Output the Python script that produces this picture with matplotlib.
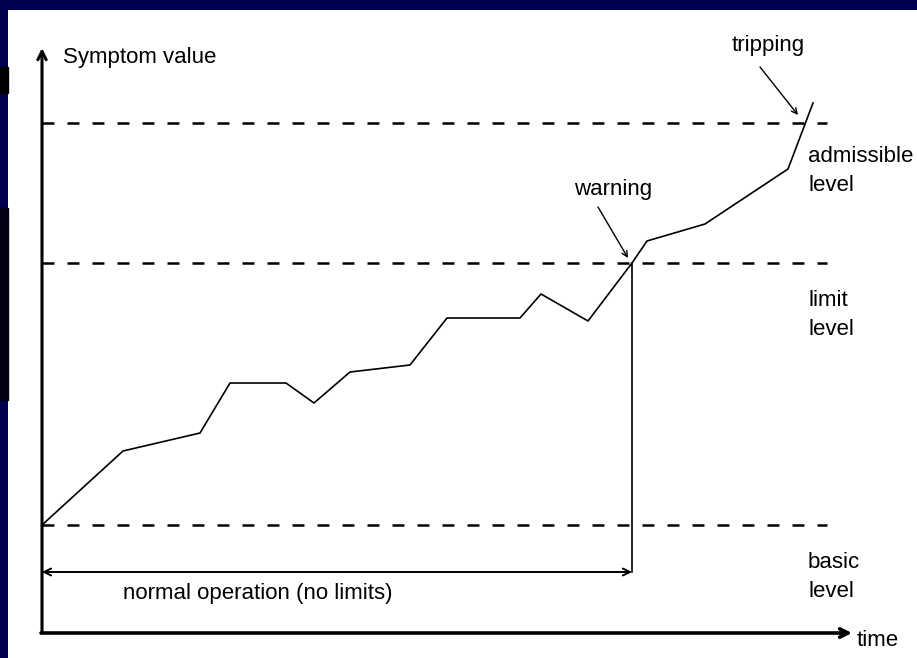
import matplotlib
matplotlib.use('Agg')
import matplotlib.pyplot as plt
from matplotlib.patches import Rectangle

# symptom curve (time, symptom value)
t_curve = [0, 81, 158, 188, 244, 272, 308, 368, 405, 478, 499, 546, 590, 605, 663, 746, 771]
v_curve = [108, 182, 200, 250, 250, 230, 261, 268, 315, 315, 339, 312, 370, 392, 409, 464, 530]

# levels
level_names = ['basic\nlevel', 'limit\nlevel', 'admissible\nlevel']
level_values = [108, 370, 510]
level_label_y = [56, 318, 462]
t_level_end = 785

t_warning = 590
v_normal = 61
t_axis_end = 810
v_axis_end = 585

navy = '#000050'
fam = ['Liberation Sans Narrow', 'Liberation Sans', 'DejaVu Sans']
fs = 16

fig = plt.figure(figsize=(9.17, 6.58), dpi=100, facecolor=navy)
# dark bands on the left strip
fig.patches.append(Rectangle((0, 1 - 93 / 658), 8 / 917, 26 / 658, transform=fig.transFigure,
                             color='black', zorder=0))
fig.patches.append(Rectangle((0, 1 - 400 / 658), 8 / 917, 192 / 658, transform=fig.transFigure,
                             color='#000010', zorder=0))

ax = fig.add_axes([8 / 917, 0, 909 / 917, 648 / 658])
ax.set_facecolor('white')
ax.set_xlim(-34, 875)
ax.set_ylim(-25, 623)
for s in ax.spines.values():
    s.set_visible(False)
ax.set_xticks([])
ax.set_yticks([])

# axes with arrows
ax.annotate('', xy=(0, v_axis_end), xytext=(0, 0),
            arrowprops=dict(arrowstyle='->,head_length=0.6,head_width=0.3', lw=2.2, color='black',
                            shrinkA=0, shrinkB=0))
ax.annotate('', xy=(t_axis_end, 0), xytext=(-1, 0),
            arrowprops=dict(arrowstyle='->,head_length=0.6,head_width=0.3', lw=2.6, color='black',
                            shrinkA=0, shrinkB=0))

# dashed levels
lw_d = 1.8
for v in level_values:
    ax.plot([0, t_level_end], [v, v], color='black', lw=lw_d, dashes=(8.6 / lw_d, 9.4 / lw_d),
            solid_capstyle='butt', dash_capstyle='butt')
for name, y in zip(level_names, level_label_y):
    ax.text(766, y, name, family=fam, fontsize=fs, ha='left', va='center', linespacing=1.55)

# curve
ax.plot(t_curve, v_curve, color='black', lw=1.2)

# warning vertical and normal operation span
ax.plot([t_warning, t_warning], [v_normal, 370], color='black', lw=1.2)
ax.annotate('', xy=(0, v_normal), xytext=(t_warning, v_normal),
            arrowprops=dict(arrowstyle='<->,head_length=0.5,head_width=0.25', lw=1.4, color='black',
                            shrinkA=0, shrinkB=0))
ax.text(81, 40, 'normal operation (no limits)', family=fam, fontsize=fs, ha='left', va='center')

# labels
ax.text(21, 576, 'Symptom value', family=fam, fontsize=fs, ha='left', va='center')
ax.text(815, -8, 'time', family=fam, fontsize=fs, ha='left', va='center')
ax.text(571, 443, 'warning', family=fam, fontsize=fs, ha='center', va='center')
ax.annotate('', xy=(586, 375), xytext=(556, 426),
            arrowprops=dict(arrowstyle='->,head_length=0.4,head_width=0.2', lw=1.0, color='black',
                            shrinkA=0, shrinkB=0))
ax.text(726, 588, 'tripping', family=fam, fontsize=fs, ha='center', va='center')
ax.annotate('', xy=(756, 518), xytext=(718, 566),
            arrowprops=dict(arrowstyle='->,head_length=0.4,head_width=0.2', lw=1.0, color='black',
                            shrinkA=0, shrinkB=0))

fig.savefig('out.png', dpi=100, facecolor=navy)
